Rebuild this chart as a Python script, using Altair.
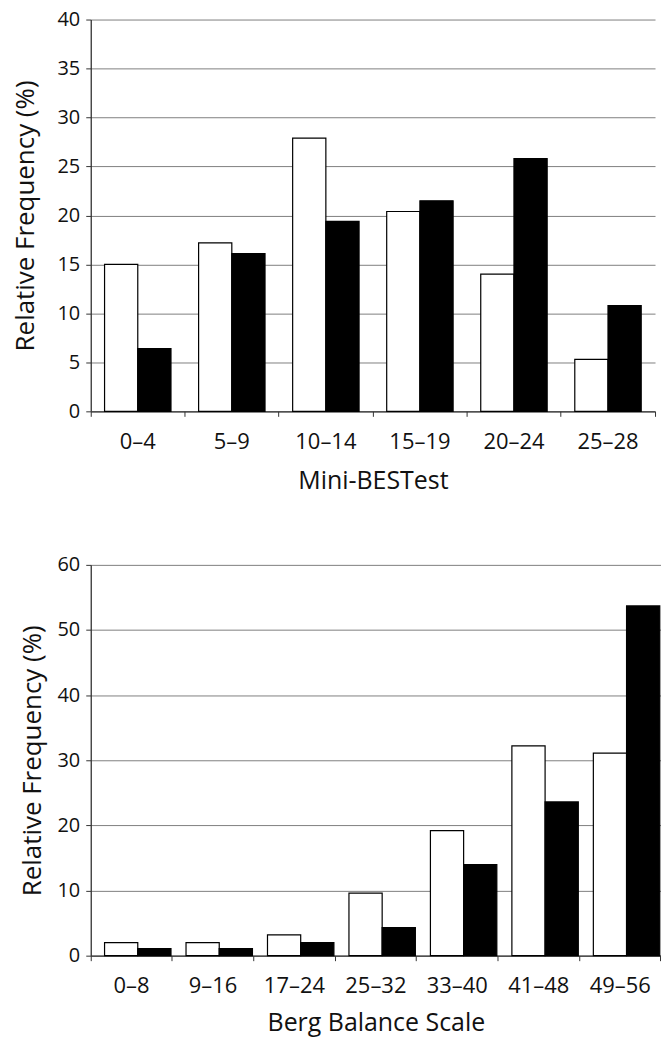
import altair as alt
import pandas as pd

# ---- data ----
top_cats = ["0–4", "5–9", "10–14", "15–19", "20–24", "25–28"]
top_white = [15.0, 17.2, 27.9, 20.4, 14.0, 5.3]
top_black = [6.4, 16.1, 19.4, 21.5, 25.8, 10.8]
top_yticks = [0, 5, 10, 15, 20, 25, 30, 35, 40]

bot_cats = ["0–8", "9–16", "17–24", "25–32", "33–40", "41–48", "49–56"]
bot_white = [2.0, 2.0, 3.2, 9.6, 19.2, 32.2, 31.1]
bot_black = [1.1, 1.1, 2.0, 4.3, 14.0, 23.6, 53.7]
bot_yticks = [0, 10, 20, 30, 40, 50, 60]

groups = ["Group 1", "Group 2"]
colors = ["#ffffff", "#000000"]
FONT = "Open Sans"
TEXT = "#111111"
AXIS = "#333333"


def make_df(cats, white, black):
    rows = []
    for c, w, b in zip(cats, white, black):
        rows.append({"cat": c, "group": groups[0], "value": w})
        rows.append({"cat": c, "group": groups[1], "value": b})
    return pd.DataFrame(rows)


def panel(df, cats, xtitle, yticks, width, height, ytp, offpad,
          xlp, xtp, xtfs):
    return alt.Chart(df).mark_bar(stroke="#000000", strokeWidth=1.2).encode(
        x=alt.X(
            "cat:N", sort=cats, title=xtitle,
            scale=alt.Scale(paddingInner=0, paddingOuter=0),
            axis=alt.Axis(
                bandPosition=1, tickExtra=True, labelAngle=0, grid=False,
                labelFont=FONT, labelFontSize=22, labelColor=TEXT,
                labelPadding=xlp, tickSize=5, tickColor=AXIS,
                domainColor=AXIS, domainWidth=1.3,
                titleFont=FONT, titleFontSize=xtfs, titleFontWeight="normal",
                titleColor=TEXT, titlePadding=xtp,
            ),
        ),
        xOffset=alt.XOffset(
            "group:N", sort=groups,
            scale=alt.Scale(paddingOuter=offpad, paddingInner=0),
        ),
        y=alt.Y(
            "value:Q", title="Relative Frequency (%)",
            scale=alt.Scale(domain=[yticks[0], yticks[-1]], nice=False),
            axis=alt.Axis(
                values=yticks, grid=True, gridColor="#808080", gridWidth=1,
                labelFont=FONT, labelFontSize=20, labelColor=TEXT,
                labelPadding=6, tickSize=5, tickColor=AXIS,
                domainColor=AXIS, domainWidth=1.3,
                titleFont=FONT, titleFontSize=26, titleFontWeight="normal",
                titleColor=TEXT, titlePadding=ytp,
            ),
        ),
        color=alt.Color(
            "group:N", scale=alt.Scale(domain=groups, range=colors), legend=None
        ),
    ).properties(width=width, height=height)


top = panel(make_df(top_cats, top_white, top_black), top_cats, "Mini-BESTest",
            top_yticks, 566, 393, 19, 0.416, 15, 16, 25)
bottom = panel(make_df(bot_cats, bot_white, bot_black), bot_cats, "Berg Balance Scale",
               bot_yticks, 572, 392, 12, 0.375, 15, 14, 25)

chart = alt.vconcat(alt.hconcat(top), alt.hconcat(bottom), spacing=62).properties(
    padding={"left": 4, "top": 0, "right": 0, "bottom": 0}
).configure_view(stroke=None)

chart.save("out.html", embed_options={"renderer": "svg", "actions": False})
